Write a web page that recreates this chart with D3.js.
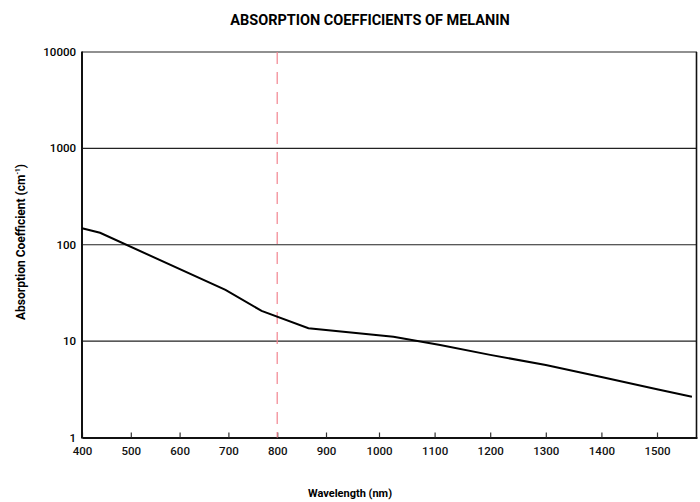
<!DOCTYPE html>
<meta charset="utf-8">
<script src="https://d3js.org/d3.v7.min.js"></script>
<style>
  body { margin: 0; background: #fff; }
  text { font-family: Roboto, "Noto Sans", sans-serif; }
</style>
<body>
<svg id="chart" width="700" height="502"></svg>
<script>
  // data
  const wavelengths = [400, 437, 694, 768, 864, 1026, 1110, 1200, 1300, 1400, 1500, 1562];
  const coefficients = [148, 133, 34, 20.6, 13.6, 11.1, 9.1, 7.2, 5.65, 4.24, 3.17, 2.65];
  const xTicks = [400, 500, 600, 700, 800, 900, 1000, 1100, 1200, 1300, 1400, 1500];
  const yTicks = [1, 10, 100, 1000, 10000];
  const markerWavelength = 800;

  const svg = d3.select("#chart");
  const plotLeft = 82, plotRight = 697, plotTop = 52, plotBottom = 437.5;

  // x spacing in the source is not uniform, so piecewise linear
  const x = d3.scaleLinear()
      .domain([400, 900, 1000, 1500, 1571])
      .range([plotLeft, 326, 379, 657, plotRight]);

  const y = d3.scaleLog()
      .domain([1, 10000])
      .range([plotBottom, plotTop]);

  // title
  svg.append("text")
      .attr("x", 370).attr("y", 25)
      .attr("text-anchor", "middle")
      .style("font-size", "14.5px").style("font-weight", "bold")
      .text("ABSORPTION COEFFICIENTS OF MELANIN");

  // horizontal grid lines
  svg.append("g")
    .selectAll("line")
    .data(yTicks.slice(1))
    .join("line")
      .attr("x1", plotLeft).attr("x2", plotRight)
      .attr("y1", d => y(d)).attr("y2", d => y(d))
      .style("stroke", "#222")
      .style("stroke-width", 1.1);

  // right border
  svg.append("line")
      .attr("x1", 696.5).attr("x2", 696.5)
      .attr("y1", plotTop).attr("y2", plotBottom)
      .style("stroke", "#111").style("stroke-width", 1.6);

  // y labels
  svg.append("g")
    .selectAll("text")
    .data(yTicks)
    .join("text")
      .attr("x", 76)
      .attr("y", d => y(d) + 1)
      .attr("text-anchor", "end")
      .attr("dominant-baseline", "middle")
      .style("font-size", "11.5px").style("font-weight", 500)
      .text(d => d);

  // x axis
  const xAxis = svg.append("g")
      .attr("transform", `translate(0,${plotBottom})`)
      .call(d3.axisBottom(x).tickValues(xTicks).tickFormat(d3.format("d"))
        .tickSizeInner(-5).tickSizeOuter(0).tickPadding(9));
  xAxis.select(".domain").style("stroke", "#111").style("stroke-width", 2);
  xAxis.selectAll(".tick line").style("stroke", "#333").style("stroke-width", 1.2);
  xAxis.selectAll(".tick text")
      .style("font-family", "Roboto, sans-serif")
      .style("font-size", "11.5px").style("font-weight", 500)
      .style("fill", "#111");

  // left axis line
  svg.append("line")
      .attr("x1", plotLeft).attr("x2", plotLeft)
      .attr("y1", plotTop - 0.5).attr("y2", plotBottom + 1)
      .style("stroke", "#111").style("stroke-width", 2);

  // marker at 800 nm
  svg.append("line")
      .attr("x1", x(markerWavelength)).attr("x2", x(markerWavelength))
      .attr("y1", plotTop).attr("y2", plotBottom)
      .style("stroke", "#f2848f")
      .style("stroke-width", 1.2)
      .style("stroke-dasharray", "12,8");

  // curve
  const line = d3.line()
      .x((d, i) => x(wavelengths[i]))
      .y(d => y(d));
  svg.append("path")
      .datum(coefficients)
      .attr("d", line)
      .style("fill", "none")
      .style("stroke", "#000")
      .style("stroke-width", 2);

  // axis titles
  const yt = svg.append("text")
      .attr("transform", "translate(25,242) rotate(-90)")
      .attr("text-anchor", "middle")
      .style("font-size", "12px").style("font-weight", "bold")
      .text("Absorption Coefficient (cm");
  yt.append("tspan").attr("dy", -5).style("font-size", "6.5px").text("-1");
  yt.append("tspan").attr("dy", 5).text(")");

  svg.append("text")
      .attr("x", 350).attr("y", 497)
      .attr("text-anchor", "middle")
      .style("font-size", "11px").style("font-weight", "bold")
      .text("Wavelength (nm)");
</script>
</body>
